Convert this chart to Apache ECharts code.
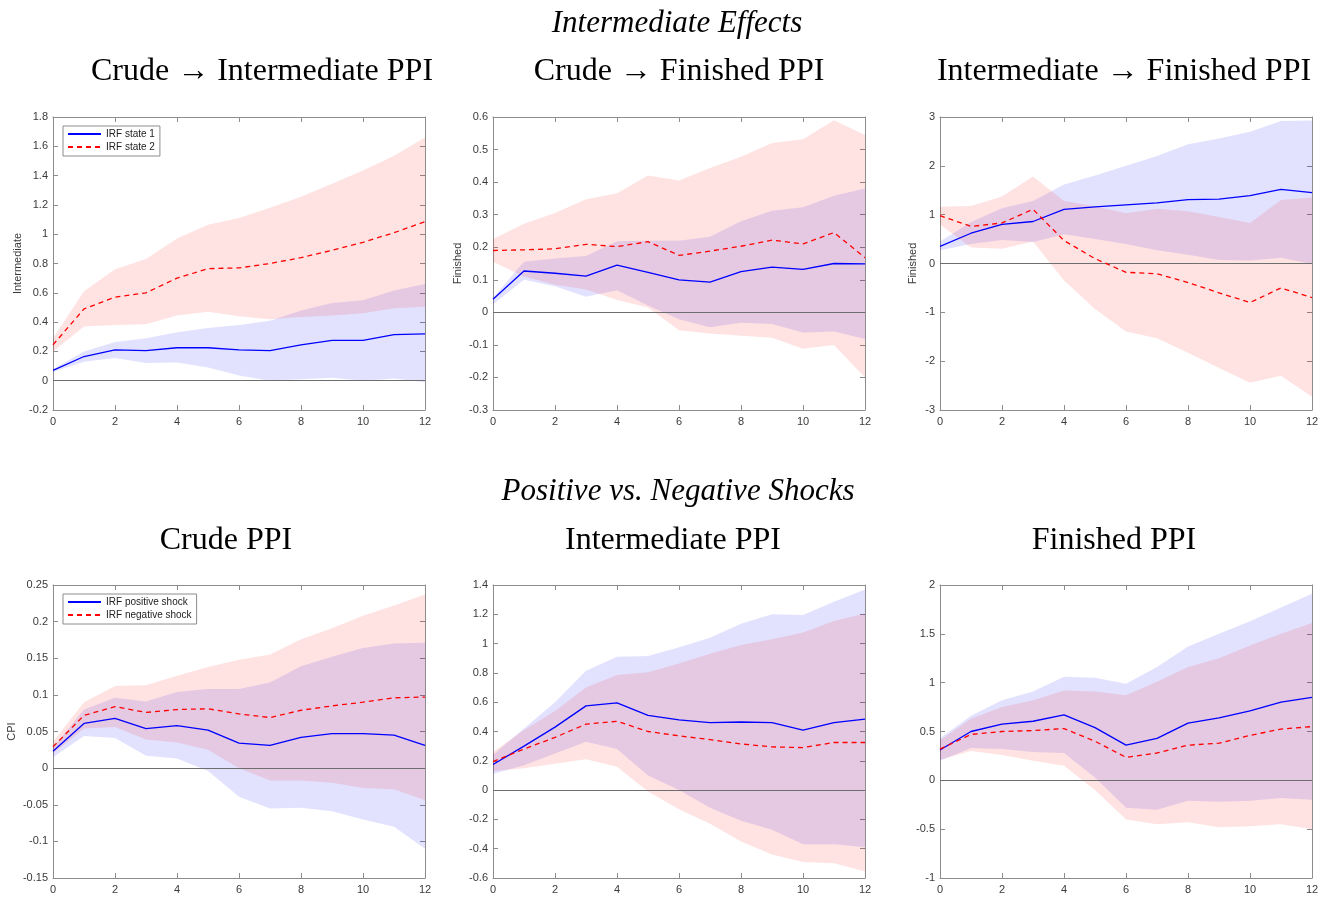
<!DOCTYPE html>
<html>
<head>
<meta charset="utf-8">
<script src="https://cdn.jsdelivr.net/npm/echarts@6/dist/echarts.min.js"></script>
<style>
html,body{margin:0;padding:0;background:#fff;}
#chart{width:1329px;height:897px;}
</style>
</head>
<body>
<div id="chart"></div>
<script>
// ---------- data ----------
const xCats = ['0','1','2','3','4','5','6','7','8','9','10','11','12'];

// Panel 1: Crude -> Intermediate PPI
const p1Blue   = [0.07,0.165,0.21,0.205,0.225,0.225,0.21,0.205,0.245,0.275,0.275,0.315,0.32];
const p1BlueUp = [0.08,0.20,0.265,0.29,0.33,0.36,0.38,0.41,0.48,0.53,0.55,0.615,0.66];
const p1BlueLo = [0.06,0.13,0.155,0.12,0.125,0.09,0.035,0.0,0.01,0.02,0.0,0.015,-0.01];
const p1Red    = [0.245,0.49,0.57,0.60,0.70,0.765,0.77,0.80,0.84,0.89,0.945,1.01,1.085];
const p1RedUp  = [0.29,0.61,0.76,0.83,0.97,1.065,1.11,1.18,1.255,1.345,1.435,1.535,1.66];
const p1RedLo  = [0.20,0.37,0.38,0.385,0.445,0.47,0.44,0.42,0.435,0.445,0.46,0.495,0.505];

// Panel 2: Crude -> Finished PPI
const p2Blue   = [0.04,0.127,0.12,0.111,0.145,0.123,0.10,0.093,0.125,0.139,0.132,0.15,0.149];
const p2BlueUp = [0.045,0.155,0.165,0.173,0.218,0.22,0.22,0.232,0.28,0.312,0.323,0.358,0.38];
const p2BlueLo = [0.025,0.10,0.08,0.048,0.068,0.021,-0.021,-0.046,-0.032,-0.036,-0.062,-0.059,-0.082];
const p2Red    = [0.19,0.192,0.195,0.209,0.202,0.217,0.175,0.188,0.203,0.222,0.21,0.245,0.168];
const p2RedUp  = [0.225,0.272,0.305,0.347,0.366,0.42,0.405,0.443,0.478,0.52,0.532,0.59,0.545];
const p2RedLo  = [0.155,0.11,0.085,0.07,0.038,0.015,-0.055,-0.065,-0.072,-0.078,-0.112,-0.10,-0.20];

// Panel 3: Intermediate -> Finished PPI
const p3Blue   = [0.35,0.62,0.80,0.86,1.11,1.16,1.20,1.24,1.31,1.32,1.39,1.52,1.45];
const p3BlueUp = [0.45,0.85,1.13,1.28,1.62,1.80,2.00,2.20,2.44,2.56,2.70,2.92,2.93];
const p3BlueLo = [0.27,0.40,0.48,0.44,0.60,0.50,0.40,0.27,0.18,0.07,0.06,0.12,-0.01];
const p3Red    = [0.98,0.76,0.83,1.11,0.47,0.10,-0.18,-0.21,-0.39,-0.60,-0.80,-0.50,-0.70];
const p3RedUp  = [1.16,1.18,1.37,1.78,1.28,1.17,1.03,1.12,1.07,0.95,0.83,1.30,1.35];
const p3RedLo  = [0.80,0.33,0.30,0.45,-0.35,-0.93,-1.39,-1.53,-1.83,-2.14,-2.44,-2.30,-2.73];

// Panel 4: Crude PPI
const p4Blue   = [0.023,0.061,0.068,0.054,0.058,0.052,0.034,0.031,0.042,0.047,0.047,0.045,0.031];
const p4BlueUp = [0.028,0.08,0.096,0.091,0.104,0.108,0.108,0.117,0.139,0.152,0.164,0.17,0.171];
const p4BlueLo = [0.015,0.044,0.041,0.017,0.013,-0.004,-0.039,-0.055,-0.054,-0.059,-0.07,-0.08,-0.11];
const p4Red    = [0.029,0.072,0.084,0.076,0.08,0.081,0.074,0.069,0.079,0.085,0.09,0.096,0.097];
const p4RedUp  = [0.036,0.09,0.112,0.113,0.126,0.138,0.148,0.155,0.176,0.191,0.208,0.222,0.237];
const p4RedLo  = [0.02,0.054,0.056,0.039,0.035,0.025,0.0,-0.017,-0.017,-0.02,-0.027,-0.029,-0.044];

// Panel 5: Intermediate PPI
const p5Blue   = [0.175,0.30,0.43,0.575,0.595,0.51,0.48,0.46,0.465,0.46,0.41,0.46,0.485];
const p5BlueUp = [0.24,0.42,0.60,0.815,0.91,0.915,0.975,1.04,1.135,1.20,1.195,1.285,1.37];
const p5BlueLo = [0.11,0.17,0.25,0.33,0.28,0.10,0.0,-0.12,-0.21,-0.27,-0.37,-0.37,-0.39];
const p5Red    = [0.195,0.28,0.36,0.45,0.47,0.40,0.37,0.345,0.315,0.295,0.29,0.325,0.325];
const p5RedUp  = [0.26,0.41,0.54,0.70,0.785,0.805,0.865,0.93,0.99,1.03,1.075,1.155,1.205];
const p5RedLo  = [0.13,0.15,0.18,0.21,0.16,-0.01,-0.13,-0.23,-0.35,-0.44,-0.49,-0.50,-0.555];

// Panel 6: Finished PPI
const p6Blue   = [0.31,0.50,0.575,0.605,0.67,0.54,0.36,0.43,0.585,0.64,0.71,0.80,0.85];
const p6BlueUp = [0.43,0.66,0.82,0.91,1.06,1.05,0.99,1.16,1.37,1.50,1.63,1.77,1.91];
const p6BlueLo = [0.20,0.33,0.32,0.29,0.28,0.03,-0.28,-0.30,-0.21,-0.22,-0.21,-0.18,-0.20];
const p6Red    = [0.32,0.47,0.50,0.51,0.53,0.40,0.235,0.28,0.36,0.38,0.46,0.525,0.55];
const p6RedUp  = [0.41,0.63,0.75,0.82,0.92,0.91,0.87,1.01,1.16,1.25,1.38,1.50,1.61];
const p6RedLo  = [0.21,0.30,0.26,0.20,0.15,-0.10,-0.40,-0.45,-0.43,-0.48,-0.47,-0.45,-0.50];

// axis settings (value ranges / tick step)
const yMins = [-0.2,-0.3,-3,-0.15,-0.6,-1];
const yMaxs = [1.8,0.6,3,0.25,1.4,2];
const yIntervals = [0.2,0.1,1,0.05,0.2,0.5];
const yNames = ['Intermediate','Finished','Finished','CPI','',''];

const sectionTitles = ['Intermediate Effects','Positive vs. Negative Shocks'];
const panelTitles = ['Crude \u2192 Intermediate PPI','Crude \u2192 Finished PPI','Intermediate \u2192 Finished PPI',
                     'Crude PPI','Intermediate PPI','Finished PPI'];
const legendTop = ['IRF state 1','IRF state 2'];
const legendBottom = ['IRF positive shock','IRF negative shock'];

const panels = [
  [p1Blue,p1BlueUp,p1BlueLo,p1Red,p1RedUp,p1RedLo],
  [p2Blue,p2BlueUp,p2BlueLo,p2Red,p2RedUp,p2RedLo],
  [p3Blue,p3BlueUp,p3BlueLo,p3Red,p3RedUp,p3RedLo],
  [p4Blue,p4BlueUp,p4BlueLo,p4Red,p4RedUp,p4RedLo],
  [p5Blue,p5BlueUp,p5BlueLo,p5Red,p5RedUp,p5RedLo],
  [p6Blue,p6BlueUp,p6BlueLo,p6Red,p6RedUp,p6RedLo]
];

// ---------- layout ----------
const gridLefts = [53,493,940,53,493,940];
const gridTops  = [117,117,117,585,585,585];
const gridW = 372, gridH = 293;
const nameGaps = [30,30,22,36,30,30];
const titleCenters = [257,674,1119,221,668,1109];
const titleTops = [51,51,51,520,520,520];

const axisColor = '#8c8c8c';
const labelColor = '#3a3a3a';
const sansFont = 'Liberation Sans, Arial, sans-serif';
const serifFont = 'Liberation Serif, Times New Roman, serif';

const chart = echarts.init(document.getElementById('chart'), null, {renderer:'canvas'});

const grids = [], xAxes = [], yAxes = [], series = [];
for (let i = 0; i < 6; i++) {
  grids.push({left:gridLefts[i], top:gridTops[i], width:gridW, height:gridH, containLabel:false});
}
// main axes
for (let i = 0; i < 6; i++) {
  xAxes.push({
    type:'category', gridIndex:i, data:xCats, boundaryGap:false,
    axisLine:{show:true, onZero:false, lineStyle:{color:axisColor, width:1}},
    axisTick:{show:true, inside:true, length:5, interval:1, lineStyle:{color:axisColor}},
    axisLabel:{show:true, interval:1, color:labelColor, fontFamily:sansFont, fontSize:11, margin:6},
    splitLine:{show:false}
  });
  yAxes.push({
    type:'value', gridIndex:i, min:yMins[i], max:yMaxs[i], interval:yIntervals[i],
    name:yNames[i], nameLocation:'middle', nameGap:nameGaps[i], nameRotate:90,
    nameTextStyle:{color:labelColor, fontFamily:sansFont, fontSize:11},
    axisLine:{show:true, lineStyle:{color:axisColor, width:1}},
    axisTick:{show:true, inside:true, length:5, lineStyle:{color:axisColor}},
    axisLabel:{show:true, color:labelColor, fontFamily:sansFont, fontSize:11, margin:5},
    splitLine:{show:false}
  });
}
// mirrored axes (top / right) for the box and ticks
for (let i = 0; i < 6; i++) {
  xAxes.push({
    type:'category', gridIndex:i, data:xCats, boundaryGap:false, position:'top',
    axisLine:{show:true, onZero:false, lineStyle:{color:axisColor, width:1}},
    axisTick:{show:true, inside:true, length:5, interval:1, lineStyle:{color:axisColor}},
    axisLabel:{show:false}, splitLine:{show:false}
  });
  yAxes.push({
    type:'value', gridIndex:i, min:yMins[i], max:yMaxs[i], interval:yIntervals[i], position:'right',
    axisLine:{show:true, lineStyle:{color:axisColor, width:1}},
    axisTick:{show:true, inside:true, length:5, lineStyle:{color:axisColor}},
    axisLabel:{show:false}, splitLine:{show:false}
  });
}

for (let i = 0; i < 6; i++) {
  const [b, bu, bl, r, ru, rl] = panels[i];
  const names = i < 3 ? legendTop : legendBottom;
  const common = {type:'line', xAxisIndex:i, yAxisIndex:i, symbol:'none', silent:true, animation:false};
  // blue band
  series.push(Object.assign({}, common, {
    name:'band-b'+i, data:bl, stack:'b'+i, stackStrategy:'all',
    lineStyle:{opacity:0}, z:1
  }));
  series.push(Object.assign({}, common, {
    name:'band-b'+i, data:bu.map((v,k)=>v-bl[k]), stack:'b'+i, stackStrategy:'all',
    lineStyle:{opacity:0}, areaStyle:{color:'rgba(0,0,255,0.115)', opacity:1}, z:1
  }));
  // red band
  series.push(Object.assign({}, common, {
    name:'band-r'+i, data:rl, stack:'r'+i, stackStrategy:'all',
    lineStyle:{opacity:0}, z:1
  }));
  series.push(Object.assign({}, common, {
    name:'band-r'+i, data:ru.map((v,k)=>v-rl[k]), stack:'r'+i, stackStrategy:'all',
    lineStyle:{opacity:0}, areaStyle:{color:'rgba(255,0,0,0.115)', opacity:1}, z:1,
    markLine:{silent:true, symbol:'none', animation:false, label:{show:false},
      lineStyle:{color:'#6e6e6e', width:1, type:'solid'},
      data:[{yAxis:0}]}
  }));
  // lines
  series.push(Object.assign({}, common, {
    name:names[0], data:b, lineStyle:{color:'#0000ff', width:1.3, type:'solid'},
    itemStyle:{color:'#0000ff'}, z:5
  }));
  series.push(Object.assign({}, common, {
    name:names[1], data:r, lineStyle:{color:'#ff0000', width:1.3, type:[5,4]},
    itemStyle:{color:'#ff0000'}, z:5
  }));
}

const titles = [
  {text:sectionTitles[0], left:672, top:3, textAlign:'center',
   textStyle:{fontFamily:serifFont, fontStyle:'italic', fontWeight:'normal', fontSize:31, color:'#000'}},
  {text:sectionTitles[1], left:673, top:471, textAlign:'center',
   textStyle:{fontFamily:serifFont, fontStyle:'italic', fontWeight:'normal', fontSize:31, color:'#000'}}
];
for (let i = 0; i < 6; i++) {
  titles.push({text:panelTitles[i], left:titleCenters[i], top:titleTops[i], textAlign:'center',
    textStyle:{fontFamily:serifFont, fontWeight:'normal', fontSize:32, color:'#000'}});
}

const legendCommon = {
  orient:'vertical', backgroundColor:'#fff', borderColor:'#8c8c8c', borderWidth:1,
  padding:[3,5,4,4], itemGap:3, itemWidth:33, itemHeight:10, selectedMode:false,
  itemStyle:{opacity:0, borderWidth:0},
  textStyle:{fontFamily:sansFont, fontSize:10, color:'#222'}
};

chart.setOption({
  animation:false,
  backgroundColor:'#ffffff',
  title:titles,
  legend:[
    Object.assign({}, legendCommon, {data:legendTop, left:63, top:126}),
    Object.assign({}, legendCommon, {data:legendBottom, left:63, top:594})
  ],
  grid:grids,
  xAxis:xAxes,
  yAxis:yAxes,
  series:series
});
</script>
</body>
</html>
